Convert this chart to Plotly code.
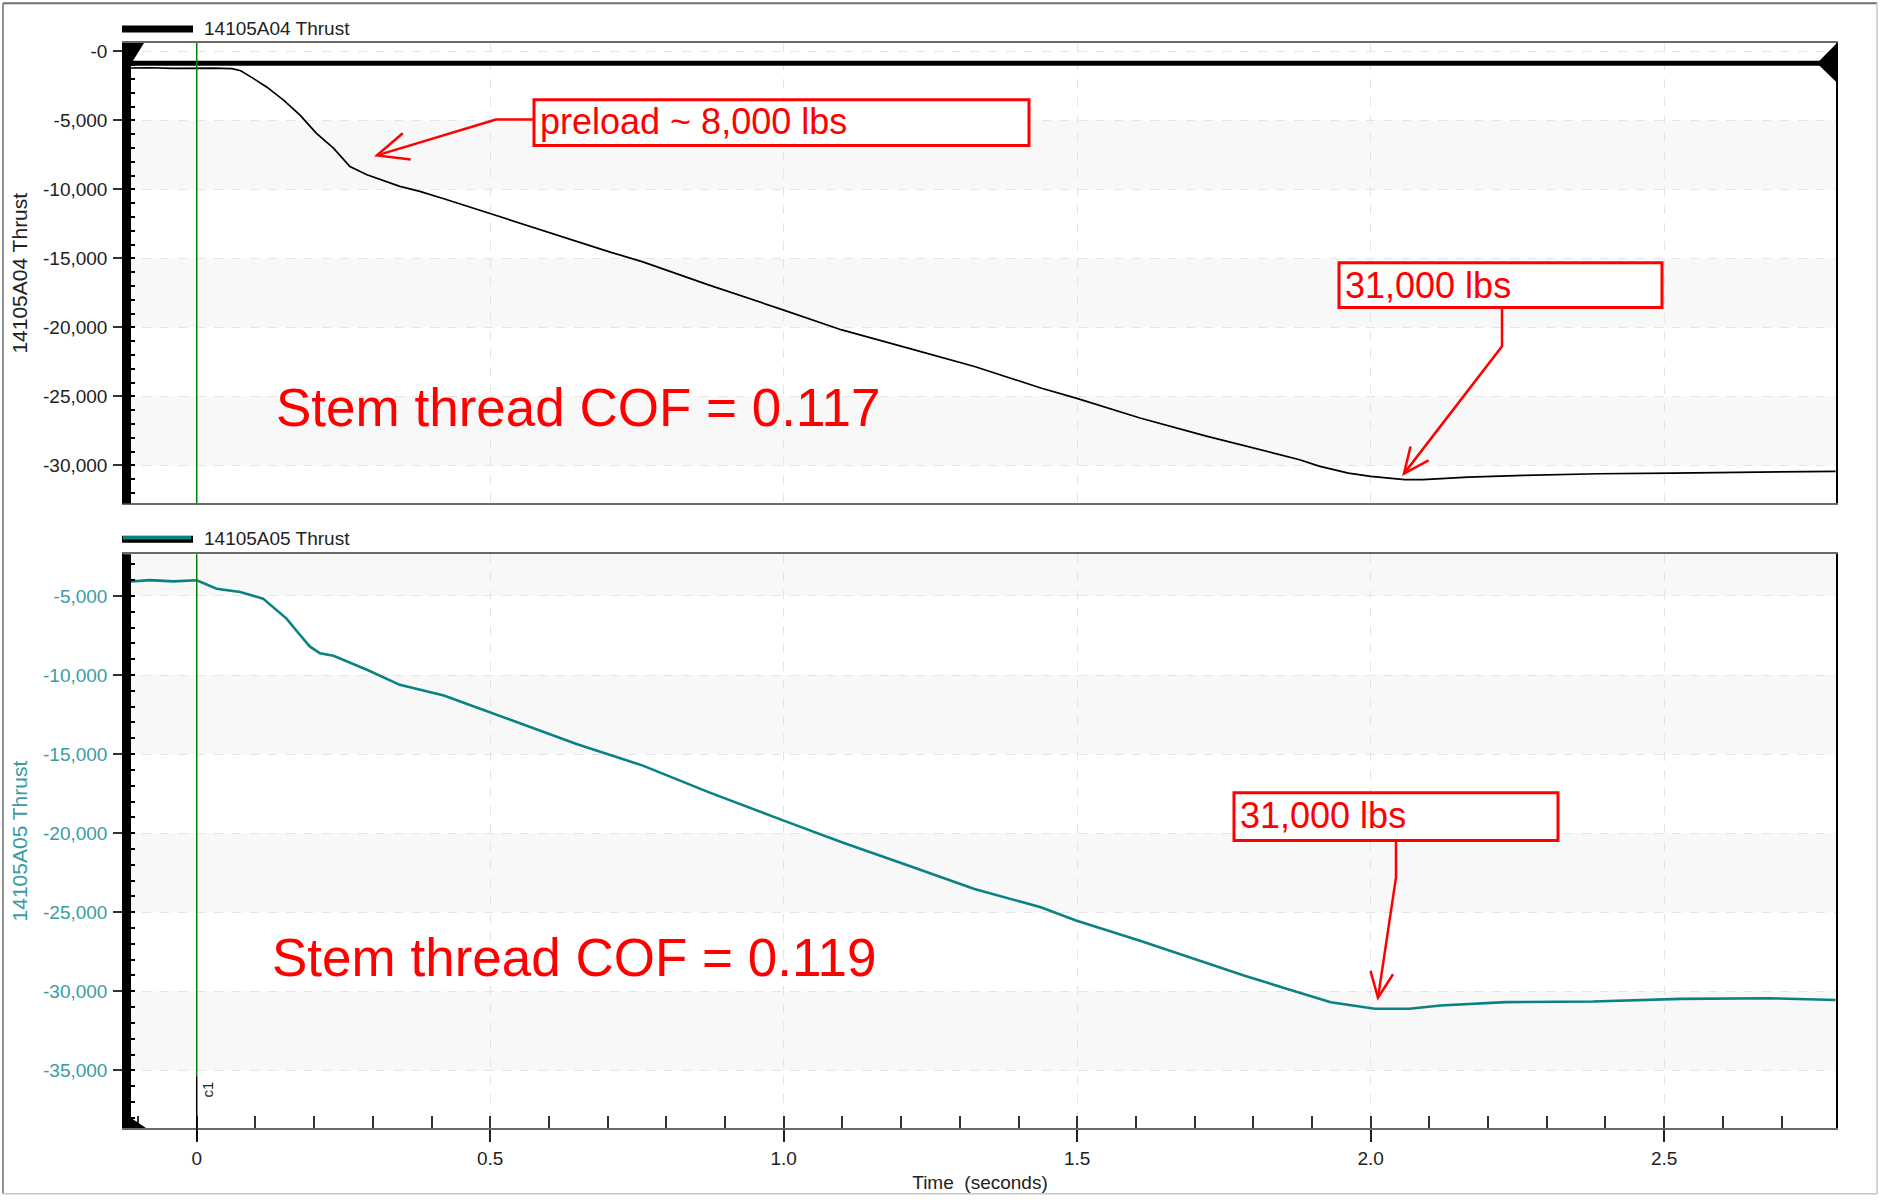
import math
import plotly.graph_objects as go

# ---------------- data ----------------
time_top = [-0.124, -0.08, -0.04, 0.0, 0.03, 0.06, 0.075, 0.097, 0.119, 0.148, 0.176, 0.204,
            0.233, 0.261, 0.29, 0.346, 0.38, 0.421, 0.5, 0.59, 0.703, 0.76, 0.873, 1.0, 1.099,
            1.212, 1.325, 1.438, 1.498, 1.607, 1.72, 1.833, 1.879, 1.912, 1.962, 2.0, 2.037,
            2.058, 2.089, 2.166, 2.261, 2.388, 2.515, 2.642, 2.792]
thrust_top = [-1200, -1180, -1220, -1200, -1210, -1250, -1400, -1970, -2570, -3530, -4610, -5930,
              -7010, -8340, -8930, -9780, -10140, -10670, -11760, -12960, -14520, -15250, -16930,
              -18740, -20180, -21500, -22830, -24390, -25120, -26560, -27880, -29090, -29590,
              -30050, -30550, -30790, -30940, -31030, -31030, -30840, -30720, -30600, -30550,
              -30480, -30430]

time_bot = [-0.124, -0.08, -0.04, 0.0, 0.034, 0.074, 0.113, 0.13, 0.153, 0.176, 0.193, 0.21,
            0.233, 0.29, 0.346, 0.421, 0.5, 0.647, 0.76, 0.873, 1.0, 1.099, 1.212, 1.325, 1.438,
            1.498, 1.607, 1.709, 1.784, 1.858, 1.932, 2.007, 2.066, 2.119, 2.23, 2.379, 2.528,
            2.677, 2.792]
thrust_bot = [-4120, -4000, -4080, -4010, -4540, -4750, -5170, -5690, -6430, -7470, -8210, -8630,
              -8780, -9670, -10620, -11300, -12360, -14360, -15730, -17420, -19210, -20580,
              -22050, -23530, -24690, -25530, -26800, -28070, -29010, -29850, -30690, -31110,
              -31110, -30900, -30690, -30650, -30480, -30440, -30550]

ref_level_top = -850
cursor_time = 0.0

x_tickvals = [0, 0.5, 1.0, 1.5, 2.0, 2.5]
x_ticktext = ["0", "0.5", "1.0", "1.5", "2.0", "2.5"]
top_tickvals = [0, -5000, -10000, -15000, -20000, -25000, -30000]
top_ticktext = ["-0", "-5,000", "-10,000", "-15,000", "-20,000", "-25,000", "-30,000"]
bot_tickvals = [-5000, -10000, -15000, -20000, -25000, -30000, -35000]
bot_ticktext = ["-5,000", "-10,000", "-15,000", "-20,000", "-25,000", "-30,000", "-35,000"]

series_top_name = "14105A04 Thrust"
series_bot_name = "14105A05 Thrust"
x_title = "Time\u00a0 (seconds)"
cof_top = "Stem thread COF = 0.117"
cof_bot = "Stem thread COF = 0.119"
preload_label = "preload ~ 8,000 lbs"
peak_label = "31,000 lbs"

# ---------------- layout constants ----------------
W, H = 1885, 1202
L, R, T, B = 124, 1836, 43, 1134
TOP_BOTTOM_PX, BOT_TOP_PX = 506, 557
x_range = [-0.1239, 2.7927]
top_range = [-32754, 613]
bot_range = [-38648, -2358]

FONT = "Liberation Sans, Arial, sans-serif"
RED = "#ff0000"
TEAL = "#0a8282"
TEAL_TXT = "#3a9ca3"
GRID = "#e4e4e4"
BAND = "#f8f8f8"


def px(x):
    return (x - L) / (R - L)


def py(y):
    return (B - y) / (B - T)


fig = go.Figure()

fig.add_trace(go.Scatter(x=time_top, y=thrust_top, mode="lines", name=series_top_name,
                         line=dict(color="black", width=1.7), xaxis="x", yaxis="y",
                         showlegend=False))
fig.add_trace(go.Scatter(x=time_bot, y=thrust_bot, mode="lines", name=series_bot_name,
                         line=dict(color=TEAL, width=2.6), xaxis="x2", yaxis="y2",
                         showlegend=False))

shapes = []
# alternating background bands
for a, b in zip(top_tickvals[1::2], top_tickvals[2::2]):
    shapes.append(dict(type="rect", xref="x domain", yref="y", x0=0, x1=1, y0=a, y1=b,
                       fillcolor=BAND, line=dict(width=0), layer="below"))
bot_bands = [(bot_range[1], bot_tickvals[0])] + list(zip(bot_tickvals[1::2], bot_tickvals[2::2]))
for a, b in bot_bands:
    shapes.append(dict(type="rect", xref="x2 domain", yref="y2", x0=0, x1=1, y0=a, y1=b,
                       fillcolor=BAND, line=dict(width=0), layer="below"))

# thick reference line in top panel
shapes.append(dict(type="line", xref="x domain", yref="y", x0=0, x1=1,
                   y0=ref_level_top, y1=ref_level_top, line=dict(color="black", width=5)))

# cursor line
shapes.append(dict(type="line", xref="x", yref="y domain", x0=cursor_time, x1=cursor_time,
                   y0=0, y1=1, line=dict(color="#008000", width=1.5)))
c_split = (1134 - 1082) / (1134 - 557)
shapes.append(dict(type="line", xref="x2", yref="y2 domain", x0=cursor_time, x1=cursor_time,
                   y0=c_split, y1=1, line=dict(color="#008000", width=1.5)))
shapes.append(dict(type="line", xref="x2", yref="paper", x0=cursor_time, x1=cursor_time,
                   y0=py(1147), y1=py(1082), line=dict(color="black", width=1.5)))

# thick left axis bars
for y0, y1 in [(T, TOP_BOTTOM_PX), (BOT_TOP_PX, B)]:
    shapes.append(dict(type="rect", xref="paper", yref="paper", x0=px(122), x1=px(131),
                       y0=py(y1), y1=py(y0), fillcolor="black", line=dict(width=0)))


def poly(points, close=False):
    s = "M " + " L ".join(f"{px(x):.5f},{py(y):.5f}" for x, y in points)
    return s + (" Z" if close else "")


# end flags of the reference line and corner marker
shapes.append(dict(type="path", xref="paper", yref="paper",
                   path=poly([(131, 43), (144, 43), (131, 64)], True),
                   fillcolor="black", line=dict(width=0)))
ref_px = 51.5 - ref_level_top / 5000 * 69.38
shapes.append(dict(type="path", xref="paper", yref="paper",
                   path=poly([(1836, 44), (1836, 82), (1817, ref_px)], True),
                   fillcolor="black", line=dict(width=0)))
shapes.append(dict(type="path", xref="paper", yref="paper",
                   path=poly([(122, 1118), (146, 1134), (122, 1134)], True),
                   fillcolor="black", line=dict(width=0)))

# legend samples
shapes.append(dict(type="line", xref="paper", yref="paper", x0=px(122), x1=px(193),
                   y0=py(29), y1=py(29), line=dict(color="black", width=7)))
shapes.append(dict(type="line", xref="paper", yref="paper", x0=px(122), x1=px(193),
                   y0=py(542), y1=py(542), line=dict(color="black", width=7)))
shapes.append(dict(type="line", xref="paper", yref="paper", x0=px(123), x1=px(191),
                   y0=py(540.5), y1=py(540.5), line=dict(color=TEAL, width=3.5)))

# outer frame
shapes.append(dict(type="line", xref="paper", yref="paper", x0=px(3), x1=px(3),
                   y0=py(1200), y1=py(3), line=dict(color="#707070", width=1.5)))
shapes.append(dict(type="line", xref="paper", yref="paper", x0=px(3), x1=px(1877),
                   y0=py(3), y1=py(3), line=dict(color="#707070", width=2)))
shapes.append(dict(type="line", xref="paper", yref="paper", x0=px(1877), x1=px(1877),
                   y0=py(1200), y1=py(3), line=dict(color="#c8c8c8", width=1.5)))
shapes.append(dict(type="line", xref="paper", yref="paper", x0=px(3), x1=px(1877),
                   y0=py(1200), y1=py(1200), line=dict(color="#c8c8c8", width=1.5)))


# red callout arrows
def arrow(points, wing=30, ang=24):
    out = [dict(type="path", xref="paper", yref="paper", path=poly(points),
                line=dict(color=RED, width=2.5))]
    tip, prev = points[-1], points[-2]
    dx, dy = prev[0] - tip[0], prev[1] - tip[1]
    n = math.hypot(dx, dy)
    ux, uy = dx / n, dy / n
    wings = []
    for s in (1, -1):
        a = math.radians(s * ang)
        rx = ux * math.cos(a) - uy * math.sin(a)
        ry = ux * math.sin(a) + uy * math.cos(a)
        wings.append((tip[0] + wing * rx, tip[1] + wing * ry))
    out.append(dict(type="path", xref="paper", yref="paper",
                    path=poly([wings[0], tip, wings[1]]), line=dict(color=RED, width=2.5)))
    return out


shapes += arrow([(534, 120), (496, 120), (377, 156)], wing=34)
shapes += arrow([(1502, 308), (1502, 348), (1404, 476)], wing=28)
shapes += arrow([(1396, 845), (1396, 882), (1378, 1003)], wing=28)

annotations = []


def box(text, x0, y0, x1, y1, text_cy):
    shapes.append(dict(type="rect", xref="paper", yref="paper", x0=px(x0), x1=px(x1),
                       y0=py(y1), y1=py(y0), fillcolor="white",
                       line=dict(color=RED, width=3)))
    annotations.append(dict(text=text, xref="paper", yref="paper", x=px(x0 + 4), y=py(text_cy),
                            xanchor="left", yanchor="middle", showarrow=False,
                            font=dict(family=FONT, size=36, color=RED)))


box(preload_label, 534, 100, 1029, 146, 122)
box(peak_label, 1339, 264, 1662, 309, 287)
box(peak_label, 1234, 797, 1558, 845, 820)

annotations.append(dict(text=cof_top, xref="paper", yref="paper", x=px(274), y=py(410),
                        xanchor="left", yanchor="middle", showarrow=False,
                        font=dict(family=FONT, size=53, color=RED)))
annotations.append(dict(text=cof_bot, xref="paper", yref="paper", x=px(270), y=py(963),
                        xanchor="left", yanchor="middle", showarrow=False,
                        font=dict(family=FONT, size=53, color=RED)))

annotations.append(dict(text=series_top_name, xref="paper", yref="paper", x=px(202), y=py(28),
                        xanchor="left", yanchor="middle", showarrow=False,
                        font=dict(family=FONT, size=19, color="#222")))
annotations.append(dict(text=series_bot_name, xref="paper", yref="paper", x=px(202), y=py(541),
                        xanchor="left", yanchor="middle", showarrow=False,
                        font=dict(family=FONT, size=19, color="#222")))
annotations.append(dict(text="c1", xref="x2", yref="paper", x=cursor_time, y=py(1095),
                        xanchor="left", yanchor="middle", showarrow=False, textangle=-90,
                        font=dict(family=FONT, size=15, color="#222")))

common_y = dict(ticks="outside", ticklen=9, tickwidth=1.5, tickcolor="#333",
                showgrid=True, gridcolor=GRID, griddash="dash", gridwidth=1,
                zeroline=False, showline=True, linecolor="black", linewidth=1.5, mirror=True,
                tickmode="array", ticklabelstandoff=2,
                minor=dict(tickmode="linear", tick0=0, dtick=1000, ticks="inside", ticklen=11,
                           tickwidth=2, tickcolor="black", showgrid=False))

fig.update_layout(
    width=W, height=H,
    margin=dict(l=L, r=W - R, t=T, b=H - B, pad=0),
    paper_bgcolor="white", plot_bgcolor="white",
    showlegend=False,
    font=dict(family=FONT, size=19, color="#222"),
    xaxis=dict(domain=[0, 1], anchor="y", range=x_range, tickmode="array", tickvals=x_tickvals,
               showticklabels=False, ticks="", showgrid=True, gridcolor=GRID, griddash="dash",
               zeroline=False, showline=True, linecolor="#6a6a6a", linewidth=1.5, mirror=True),
    yaxis=dict(domain=[py(TOP_BOTTOM_PX), 1], anchor="x", range=top_range,
               tickvals=top_tickvals, ticktext=top_ticktext,
               tickfont=dict(family=FONT, size=19, color="#222"),
               title=dict(text=series_top_name, standoff=10,
                          font=dict(family=FONT, size=21, color="#222")),
               **common_y),
    xaxis2=dict(domain=[0, 1], anchor="y2", range=x_range, tickmode="array",
                tickvals=x_tickvals, ticktext=x_ticktext, ticks="outside", ticklen=12,
                tickwidth=1.5, tickcolor="#222", tickfont=dict(family=FONT, size=19, color="#222"),
                showgrid=True, gridcolor=GRID, griddash="dash", zeroline=False,
                showline=True, linecolor="#6a6a6a", linewidth=1.5, mirror=True,
                minor=dict(tickmode="linear", tick0=0, dtick=0.1, ticks="inside", ticklen=12,
                           tickwidth=1.5, tickcolor="#333", showgrid=False),
                title=dict(text=x_title, standoff=8, font=dict(family=FONT, size=19, color="#222"))),
    yaxis2=dict(domain=[0, py(BOT_TOP_PX)], anchor="x2", range=bot_range,
                tickvals=bot_tickvals, ticktext=bot_ticktext,
                tickfont=dict(family=FONT, size=19, color=TEAL_TXT),
                title=dict(text=series_bot_name, standoff=10,
                           font=dict(family=FONT, size=21, color=TEAL_TXT)),
                **common_y),
    shapes=shapes,
    annotations=annotations,
)

fig.write_html("out.html", config={"displayModeBar": False},
               post_script="document.body.style.margin='0';document.body.style.overflow='hidden';")
